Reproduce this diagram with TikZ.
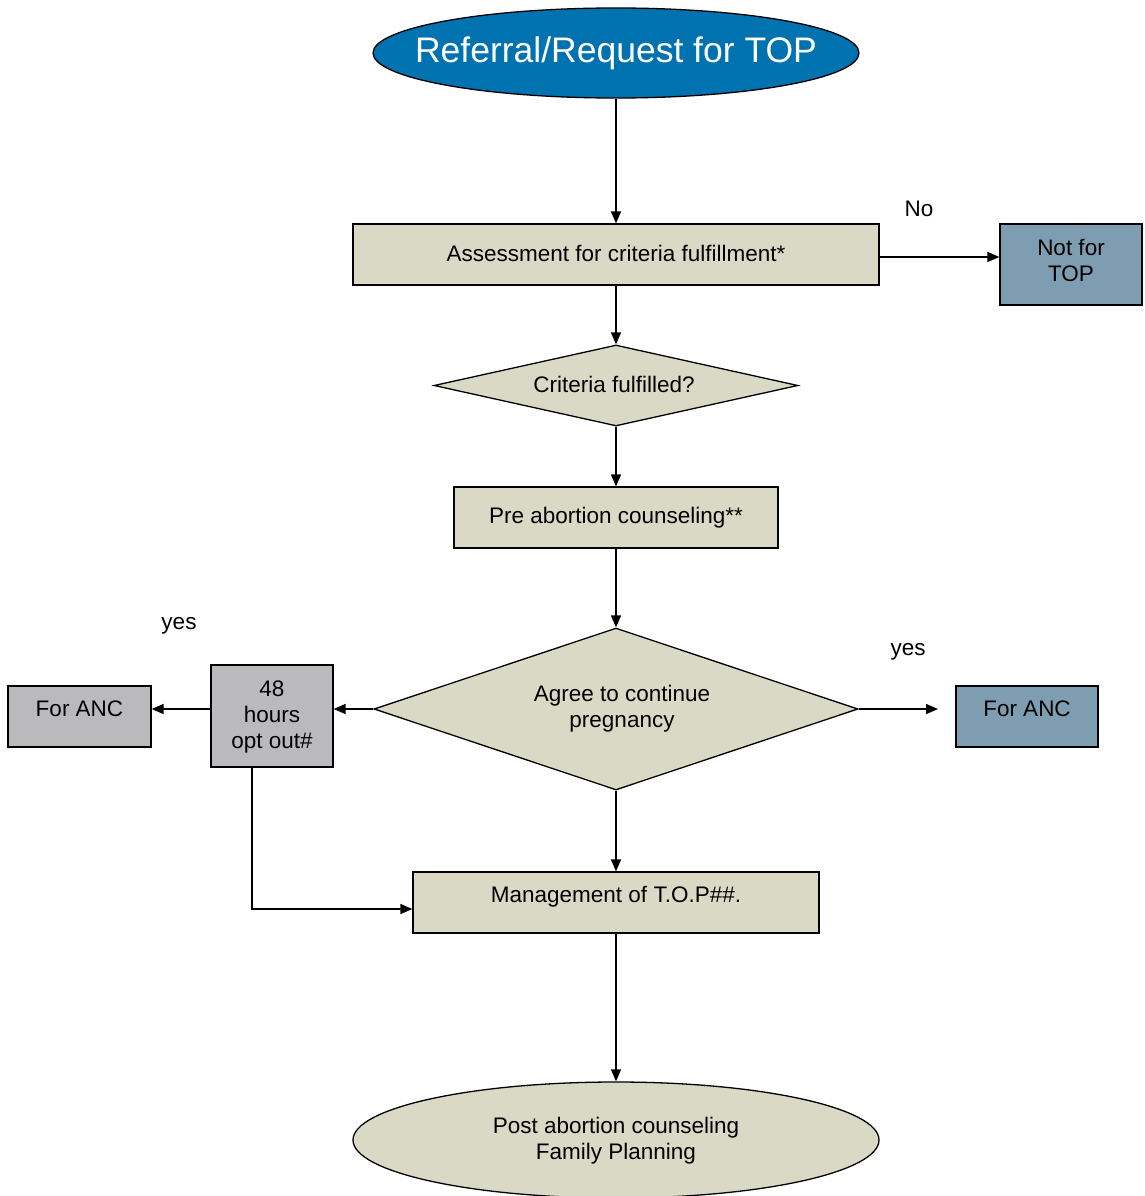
\documentclass[tikz,border=0pt]{standalone}
\usepackage{fontspec}
\setmainfont{Liberation Sans}
\usetikzlibrary{shapes.geometric,arrows.meta}
\definecolor{topblue}{RGB}{0,114,176}
\definecolor{beige}{RGB}{217,217,198}
\definecolor{greyblue}{RGB}{127,157,176}
\definecolor{lgrey}{RGB}{186,186,189}
\tikzset{
  txt/.style={font=\fontsize{22.5}{26}\selectfont, align=center, inner sep=0pt},
  box/.style={txt, draw=black, line width=1.3pt, rectangle},
  diam/.style={txt, draw=black, line width=1.3pt, diamond, fill=beige},
  conn/.style={line width=1.5pt, -{Triangle[length=12pt,width=10pt]}},
}
\begin{document}
\begin{tikzpicture}[x=1pt,y=-1pt]
\useasboundingbox (0,0) rectangle (1145,1196);
% top ellipse
\node[ellipse, draw=black, line width=1.3pt, fill=topblue, minimum width=486pt, minimum height=90pt, inner sep=0pt] (ref) at (616,53) {};
\node[inner sep=0pt, text=white, font=\fontsize{35.5}{40}\selectfont] at (616,53) {Referral/Request for TOP};
% assessment
\node[box, fill=beige, minimum width=526pt, minimum height=61pt] (assess) at (616,254.5) {};
\node[txt] at (616,253) {Assessment for criteria fulfillment*};
\node[box, fill=greyblue, minimum width=142pt, minimum height=81pt] (nottop) at (1071,264.5) {};
\node[txt] at (1071,260) {Not for\\TOP};
\node[txt] (no) at (919,209) {No};
% diamond 1
\node[diam, minimum width=364pt, minimum height=81pt, aspect=4.5] (crit) at (616,385.5) {};
\node[txt] at (614,384) {Criteria fulfilled?};
% pre abortion
\node[box, fill=beige, minimum width=324pt, minimum height=61pt] (pre) at (616,517.5) {};
\node[txt] at (616,518) {Pre abortion counseling**};
% diamond 2
\node[diam, minimum width=484pt, minimum height=162pt, aspect=3] (agree) at (616,709) {};
\node[txt] at (622,709) {Agree to continue\\pregnancy};
% 48 hours
\node[box, fill=lgrey, minimum width=122pt, minimum height=102pt] (h48) at (272,716) {};
\node[txt] at (272,717) {48\\hours\\opt out\#};
% left ANC
\node[box, fill=lgrey, minimum width=143pt, minimum height=61pt] (ancl) at (79.5,716.5) {};
\node[txt] at (79.5,709) {For ANC};
% right ANC
\node[box, fill=greyblue, minimum width=142pt, minimum height=61pt] (ancr) at (1027,716.5) {};
\node[txt] at (1027,709) {For ANC};
\node[txt] (yesl) at (179,626) {yes};
\node[txt] (yesr) at (908,652) {yes};
% management
\node[box, fill=beige, minimum width=406pt, minimum height=61pt] (mgmt) at (616,902.5) {};
\node[txt] at (616,897) {Management of T.O.P\#\#.};
% bottom ellipse
\node[ellipse, draw=black, line width=1.3pt, fill=beige, minimum width=526pt, minimum height=116pt, inner sep=0pt] (post) at (616,1140) {};
\node[txt] at (616,1141) {Post abortion counseling\\Family Planning};

% connectors
\draw[conn] (ref.south) -- (assess.north);
\draw[conn] (assess.east |- 0,257) -- (nottop.west |- 0,257);
\draw[conn] (assess.south) -- (crit.north);
\draw[conn] (crit.south) -- (pre.north);
\draw[conn] (pre.south) -- (agree.north);
\draw[conn] (agree.west) -- (h48.east |- agree.west);
\draw[conn] (h48.west |- agree.west) -- (ancl.east |- agree.west);
\coordinate (rend) at (938,709);
\draw[conn] (agree.east) -- (rend);
\draw[conn] (agree.south) -- (mgmt.north);
\draw[conn] (252,767) |- (mgmt.west |- 0,909);
\draw[conn] (mgmt.south) -- (post.north);
\end{tikzpicture}
\end{document}
